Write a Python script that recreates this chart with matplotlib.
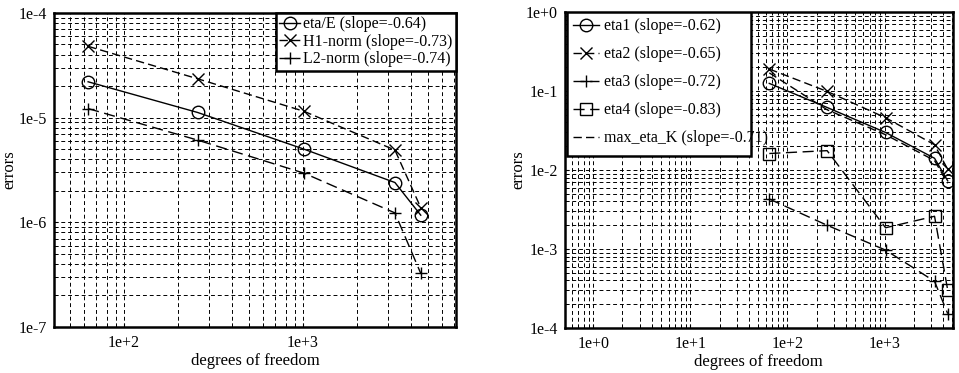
import numpy as np
import matplotlib
matplotlib.use("Agg")
import matplotlib.pyplot as plt
from matplotlib.ticker import FuncFormatter, LogLocator, NullFormatter
from matplotlib.patches import Rectangle

plt.rcParams['font.family'] = ['Liberation Serif', 'DejaVu Serif']

# Left panel data
dof_left = [63, 258, 1014, 3270, 4560]
eta_E = [2.2e-5, 1.12e-5, 5.0e-6, 2.4e-6, 1.17e-6]
h1_norm = [4.8e-5, 2.35e-5, 1.15e-5, 4.9e-6, 1.38e-6]
l2_norm = [1.22e-5, 6.1e-6, 2.95e-6, 1.23e-6, 3.25e-7]
left_labels = ['eta/E (slope=-0.64)', 'H1-norm (slope=-0.73)', 'L2-norm (slope=-0.74)']

# Right panel data
dof_right = [65, 256, 1024, 3270, 4470]
eta1 = [0.125, 0.062, 0.0299, 0.0141, 0.0073]
eta2 = [0.19, 0.099, 0.046, 0.0209, 0.0102]
eta3 = [0.0043, 0.0020, 0.00097, 0.00039, 0.000152]
eta4 = [0.0162, 0.0176, 0.00186, 0.0026, 0.000302]
max_eta_K = [0.17, 0.058, 0.028, 0.0132, 0.0068]
right_labels = ['eta1 (slope=-0.62)', 'eta2 (slope=-0.65)', 'eta3 (slope=-0.72)',
                'eta4 (slope=-0.83)', 'max_eta_K (slope=-0.71)']

fmt = FuncFormatter(lambda v, p: "1e%+d" % int(round(np.log10(v))))

fig = plt.figure(figsize=(9.59, 3.73), dpi=100)
axL = fig.add_axes([0.0563, 0.1233, 0.419, 0.842])
axR = fig.add_axes([0.589, 0.1206, 0.4046, 0.847])

def style(ax, ylab_x):
    ax.set_xscale('log')
    ax.set_yscale('log')
    ax.xaxis.set_major_locator(LogLocator(base=10, numticks=20))
    ax.yaxis.set_major_locator(LogLocator(base=10, numticks=20))
    ax.xaxis.set_minor_locator(LogLocator(base=10, subs=np.arange(2, 10), numticks=20))
    ax.yaxis.set_minor_locator(LogLocator(base=10, subs=np.arange(2, 10), numticks=20))
    ax.xaxis.set_major_formatter(fmt)
    ax.yaxis.set_major_formatter(fmt)
    ax.xaxis.set_minor_formatter(NullFormatter())
    ax.yaxis.set_minor_formatter(NullFormatter())
    ax.grid(True, which='both', color='black', linestyle=(0, (4, 3)), linewidth=0.7)
    ax.tick_params(which='both', direction='in', labelsize=11.5, length=3)
    ax.tick_params(axis='x', pad=6)
    ax.tick_params(axis='y', pad=5)
    for s in ax.spines.values():
        s.set_linewidth(1.8)
    ax.set_xlabel('degrees of freedom', fontsize=12, labelpad=1)
    ax.set_ylabel('errors', fontsize=12)
    ax.yaxis.set_label_coords(ylab_x, 0.5)

style(axL, -0.092)
kw = dict(color='black', linewidth=1.0, markersize=9, markerfacecolor='none', markeredgewidth=1.0)
axL.plot(dof_left, eta_E, '-', marker='o', label=left_labels[0], **kw)
axL.plot(dof_left, h1_norm, linestyle=(0, (6, 3)), marker='x', label=left_labels[1], **kw)
axL.plot(dof_left, l2_norm, linestyle=(0, (8, 4)), marker='+', label=left_labels[2], **kw)
axL.set_xlim(40.6, 7160)
axL.set_ylim(1e-7, 1e-4)
legL = axL.legend(loc='upper right', fontsize=11.5, frameon=True, fancybox=False,
                  edgecolor='black', framealpha=1, borderpad=0.2, labelspacing=0.1,
                  handlelength=1.3, handletextpad=0.2, borderaxespad=0.0)
legL.get_frame().set_linewidth(1.8)

style(axR, -0.100)
axR.plot(dof_right, eta1, '-', marker='o', label=right_labels[0], **kw)
axR.plot(dof_right, eta2, linestyle=(0, (6, 3)), marker='x', label=right_labels[1], **kw)
axR.plot(dof_right, eta3, linestyle=(0, (8, 4)), marker='+', label=right_labels[2], **kw)
axR.plot(dof_right, eta4, linestyle=(0, (8, 4)), marker='s', label=right_labels[3], **kw)
axR.plot(dof_right, max_eta_K, linestyle=(0, (6, 3)), color='black', linewidth=1.0,
         label=right_labels[4])
axR.set_xlim(0.51, 5050)
axR.set_ylim(1e-4, 1e0)
# manual legend box (text overflows it slightly, as in the original)
box = Rectangle((0.005, 0.545), 0.474, 0.455, transform=axR.transAxes,
                facecolor='white', edgecolor='black', linewidth=1.8, zorder=4.5)
axR.add_patch(box)
legR = axR.legend(loc='upper left', fontsize=11.5, frameon=False,
                  borderpad=0.4, labelspacing=0.75,
                  handlelength=1.6, handletextpad=0.3, borderaxespad=0.0,
                  bbox_to_anchor=(0.005, 1.0))
legR.set_zorder(5)

fig.savefig('out.png', dpi=100)
